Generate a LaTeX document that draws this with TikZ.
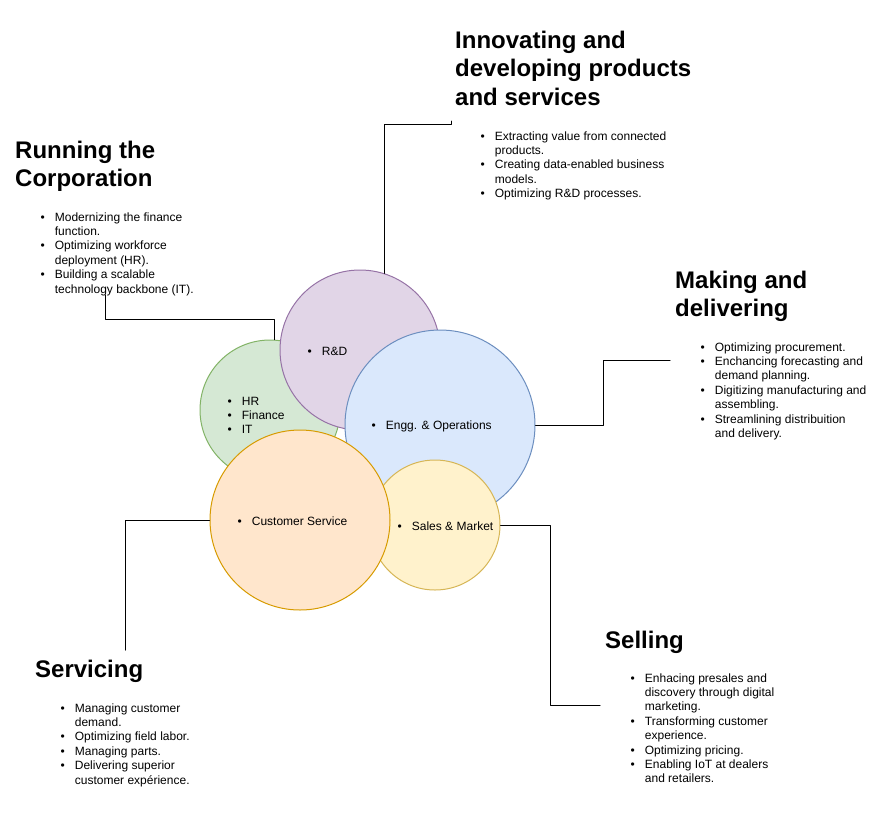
\documentclass[tikz,border=0pt]{standalone}
\usepackage{fontspec}
\setmainfont{Liberation Sans}
\usepackage[usenames]{xcolor}
\usetikzlibrary{arrows}
\definecolor{hrfill}{HTML}{D5E8D4}
\definecolor{hrline}{HTML}{82B366}
\definecolor{rdfill}{HTML}{E1D5E7}
\definecolor{rdline}{HTML}{9673A6}
\definecolor{eofill}{HTML}{DAE8FC}
\definecolor{eoline}{HTML}{6C8EBF}
\definecolor{smfill}{HTML}{FFF2CC}
\definecolor{smline}{HTML}{D6B656}
\definecolor{csfill}{HTML}{FFE6CC}
\definecolor{csline}{HTML}{D79B00}
\newcommand{\hlines}[1]{\begin{tabular}[t]{@{}l@{}}#1\end{tabular}}
\newcommand{\blist}[1]{\begin{tabular}[t]{@{}l@{\hspace{10pt}}l@{}}#1\end{tabular}}

\begin{document}
\begin{tikzpicture}[line cap=round,line join=round,x=1pt,y=-1pt,
  ring/.style={circle,draw,line width=1pt,inner sep=0pt},
  head/.style={anchor=base west,inner sep=0pt,font=\fontsize{24}{28.8}\selectfont\bfseries},
  items/.style={anchor=base west,inner sep=0pt,font=\fontsize{12}{14.4}\selectfont},
  link/.style={draw,line width=1pt}]
\useasboundingbox (0,0) rectangle (881,831);
% circles
\node[ring,draw=hrline,fill=hrfill,minimum size=140pt] (hr) at (270,410) {};
\node[ring,draw=rdline,fill=rdfill,minimum size=160pt] (rd) at (360,350) {};
\node[ring,draw=eoline,fill=eofill,minimum size=190pt] (eo) at (440,425) {};
\node[ring,draw=smline,fill=smfill,minimum size=130pt] (sm) at (435,525) {};
\node[ring,draw=csline,fill=csfill,minimum size=180pt] (cs) at (300,520) {};
% circle labels
\node[items] (rdtext) at (307.5,355) {\blist{\textbullet & R\&D}};
\node[items] (hrtext) at (227.5,405) {\blist{\textbullet & HR\\ \textbullet & Finance\\ \textbullet & IT}};
\node[items] (eotext) at (371.5,429) {\blist{\textbullet & Engg. \& Operations}};
\node[items] (cstext) at (237.5,525) {\blist{\textbullet & Customer Service}};
\node[items] (smtext) at (397.5,530) {\blist{\textbullet & Sales \& Market}};
% headings
\node[head] (runhead) at (15,158) {\hlines{Running the\\Corporation}};
\node[head] (innhead) at (455,48) {\hlines{Innovating and\\developing products\\and services}};
\node[head] (makehead) at (675,288) {\hlines{Making and\\delivering}};
\node[head] (sellhead) at (605,648) {\hlines{Selling}};
\node[head] (servhead) at (35,677) {\hlines{Servicing}};
% lists
\node[items] (runlist) at (40.5,221) {\blist{\textbullet & Modernizing the finance\\ & function.\\ \textbullet & Optimizing workforce\\ & deployment (HR).\\ \textbullet & Building a scalable\\ & technology backbone (IT).}};
\node[items] (innlist) at (480.5,140) {\blist{\textbullet & Extracting value from connected\\ & products.\\ \textbullet & Creating data-enabled business\\ & models.\\ \textbullet & Optimizing R\&D processes.}};
\node[items] (makelist) at (700.5,351) {\blist{\textbullet & Optimizing procurement.\\ \textbullet & Enchancing forecasting and\\ & demand planning.\\ \textbullet & Digitizing manufacturing and\\ & assembling.\\ \textbullet & Streamlining distribuition\\ & and delivery.}};
\node[items] (selllist) at (630.5,682) {\blist{\textbullet & Enhacing presales and\\ & discovery through digital\\ & marketing.\\ \textbullet & Transforming customer\\ & experience.\\ \textbullet & Optimizing pricing.\\ \textbullet & Enabling IoT at dealers\\ & and retailers.}};
\node[items] (servlist) at (60.5,712) {\blist{\textbullet & Managing customer\\ & demand.\\ \textbullet & Optimizing field labor.\\ \textbullet & Managing parts.\\ \textbullet & Delivering superior\\ & customer exp\'erience.}};
% connectors
\coordinate (runend) at (105,295);
\coordinate (innend) at (451,121);
\coordinate (makeend) at (670,360);
\coordinate (sellend) at (600,705);
\coordinate (servend) at (125,650);
\draw[link] (hr.86) -- ++(0,-20) -| (runend);
\draw[link] (rd.72) -- ++(0,-149) -| (innend);
\draw[link] (eo.east) -- ++(68,0) |- (makeend);
\draw[link] (sm.east) -- ++(50,0) |- (sellend);
\draw[link] (cs.west) -| (servend);
\end{tikzpicture}
\end{document}
